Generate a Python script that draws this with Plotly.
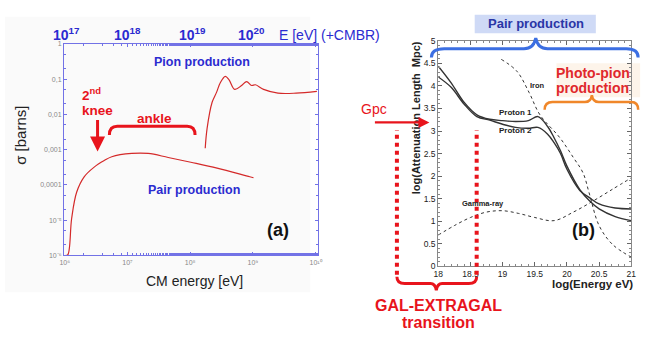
import plotly.graph_objects as go

W, H = 654, 342

# panel (a): photon energy in nucleus rest frame (log10 eV) vs cross section (barns)
pair_lg = [6.01, 6.05, 6.11, 6.19, 6.31, 6.47, 6.63, 6.75, 7.07, 7.33, 7.65, 8.01, 8.43, 8.95, 9.01]
pair_sigma = [1e-6, 1.05e-6, 1.1e-5, 6.2e-5, 1.7e-4, 3.2e-4, 4.9e-4, 6.3e-4, 7.8e-4, 7.8e-4,
              6.0e-4, 4.4e-4, 3.0e-4, 1.7e-4, 1.6e-4]
pion_lg = [8.24, 8.27, 8.35, 8.42, 8.48, 8.56, 8.62, 8.71, 8.82, 8.90, 8.98, 9.04, 9.17, 9.40, 9.69, 10.02]
pion_sigma = [0.0011, 0.004, 0.022, 0.042, 0.079, 0.12, 0.095, 0.051, 0.066, 0.085, 0.066, 0.069,
              0.051, 0.040, 0.040, 0.045]
bottom_ticks = [6, 7, 8, 9, 10]
bottom_labels = ["10⁶", "10⁷", "10⁸", "10⁹", "10¹⁰"]
sigma_ticks = [1, 0.1, 0.01, 0.001, 1e-4, 1e-5, 1e-6]
sigma_labels = ["1", "0,1", "0,01", "0,001", "0,0001", "10⁻⁵", "10⁻⁶"]
top_lg = [6.03, 7.0, 8.04, 8.98]
top_labels = ["10<sup>17</sup>", "10<sup>18</sup>", "10<sup>19</sup>", "10<sup>20</sup>"]

# panel (b): log10 attenuation length (Mpc) vs log10 energy (eV)
prot1_e = [18.0, 18.2, 18.4, 18.6, 18.8, 19.0, 19.2, 19.4, 19.55, 19.7, 19.8, 19.9, 20.0, 20.2, 20.35, 20.5, 20.75, 21.0]
prot1_l = [4.44, 4.07, 3.64, 3.36, 3.26, 3.23, 3.21, 3.23, 3.32, 3.10, 2.85, 2.56, 2.22, 1.70, 1.45, 1.27, 1.10, 1.01]
prot2_e = [18.0, 18.2, 18.4, 18.6, 18.8, 19.0, 19.2, 19.4, 19.55, 19.7, 19.8, 19.9, 20.0, 20.2, 20.35, 20.5, 20.75, 21.0]
prot2_l = [4.20, 3.97, 3.60, 3.32, 3.24, 3.15, 3.08, 3.06, 3.08, 2.93, 2.74, 2.50, 2.15, 1.68, 1.52, 1.38, 1.29, 1.27]
iron_e = [18.98, 19.22, 19.41, 19.58, 19.89, 20.1, 20.25, 20.35, 20.5, 20.71, 21.0]
iron_l = [4.59, 4.33, 3.86, 3.36, 2.85, 2.41, 2.07, 1.60, 0.90, 0.48, 0.20]
gamma_e = [18.0, 18.25, 18.5, 18.75, 19.0, 19.25, 19.5, 19.8, 20.1, 20.4, 20.7, 21.0]
gamma_l = [0.69, 0.90, 1.08, 1.20, 1.23, 1.17, 1.08, 1.01, 1.20, 1.44, 1.70, 1.96]


def px(x):
    return x / W


def py(y):
    return 1 - y / H


def path(pts):
    # pts: list of (cmd, [x, y, ...]) in pixel units -> svg path in paper units
    out = []
    for cmd, vals in pts:
        coords = []
        for i in range(0, len(vals), 2):
            coords.append(f"{px(vals[i]):.5f},{py(vals[i + 1]):.5f}")
        out.append(cmd + " " + " ".join(coords))
    return " ".join(out)


FONT = "Arial, Liberation Sans, sans-serif"
RED = "#e8141c"
BLUE_TXT = "#2b2bd0"

fig = go.Figure()

fig.add_trace(go.Scatter(x=[10 ** v for v in pair_lg], y=pair_sigma, mode="lines",
                         line=dict(color="#d42a2a", width=1.2, shape="spline"),
                         xaxis="x", yaxis="y"))
fig.add_trace(go.Scatter(x=[10 ** v for v in pion_lg], y=pion_sigma, mode="lines",
                         line=dict(color="#d42a2a", width=1.2, shape="spline"),
                         xaxis="x", yaxis="y"))

fig.add_trace(go.Scatter(x=prot1_e, y=prot1_l, mode="lines",
                         line=dict(color="#333", width=1.4, shape="spline"), xaxis="x2", yaxis="y2"))
fig.add_trace(go.Scatter(x=prot2_e, y=prot2_l, mode="lines",
                         line=dict(color="#333", width=1.4, shape="spline"), xaxis="x2", yaxis="y2"))
fig.add_trace(go.Scatter(x=iron_e, y=iron_l, mode="lines",
                         line=dict(color="#333", width=1, dash="dot", shape="spline"), xaxis="x2", yaxis="y2"))
fig.add_trace(go.Scatter(x=gamma_e, y=gamma_l, mode="lines",
                         line=dict(color="#333", width=1, dash="dot", shape="spline"), xaxis="x2", yaxis="y2"))

left_frame = "#7272e6"
fig.update_layout(
    width=W, height=H, margin=dict(l=0, r=0, t=0, b=0),
    paper_bgcolor="white", plot_bgcolor="rgba(0,0,0,0)", showlegend=False,
    font=dict(family=FONT),
    xaxis=dict(type="log", domain=[px(60), px(318)], range=[5.99, 10.04], anchor="y",
               tickvals=[10 ** v for v in bottom_ticks], ticktext=bottom_labels,
               tickfont=dict(size=7, color="#888"), ticks="inside", ticklen=3,
               tickcolor=left_frame, showline=True, linecolor=left_frame, linewidth=1.2,
               mirror="ticks", showgrid=False, zeroline=False,
               minor=dict(ticks="inside", ticklen=2, tickcolor=left_frame, showgrid=False)),
    yaxis=dict(type="log", domain=[py(258), py(40)], range=[-6, 0], anchor="x",
               tickvals=sigma_ticks, ticktext=sigma_labels,
               tickfont=dict(size=7, color="#888"), ticks="inside", ticklen=3,
               tickcolor=left_frame, showline=True, linecolor=left_frame, linewidth=1.2,
               mirror="ticks", showgrid=False, zeroline=False,
               minor=dict(ticks="inside", ticklen=2, tickcolor=left_frame, showgrid=False)),
    xaxis2=dict(domain=[px(440), px(636)], range=[18, 21], anchor="y2", dtick=0.5,
                tickfont=dict(size=8.5, color="#222"), ticks="inside", ticklen=4,
                tickcolor="#666", showline=True, linecolor="#888", linewidth=1,
                mirror="ticks", showgrid=False, zeroline=False,
                minor=dict(dtick=0.1, ticks="inside", ticklen=2, tickcolor="#888")),
    yaxis2=dict(domain=[py(269), py(37)], range=[0, 5], anchor="x2", dtick=0.5,
                tickfont=dict(size=8.5, color="#222"), ticks="inside", ticklen=4,
                tickcolor="#666", showline=True, linecolor="#888", linewidth=1,
                mirror="ticks", showgrid=False, zeroline=False,
                minor=dict(dtick=0.1, ticks="inside", ticklen=2, tickcolor="#888")),
)

shapes = [
    # faint backdrop of panel (a)
    dict(type="rect", xref="paper", yref="paper", x0=px(0), x1=px(310), y0=py(296), y1=py(12),
         fillcolor="#fafafa", line=dict(width=0), layer="below"),
    # Pair production label box
    dict(type="rect", xref="paper", yref="paper", x0=px(477), x1=px(600), y0=py(29), y1=py(10),
         fillcolor="#cfdaf6", line=dict(width=0), layer="below"),
    # photo-pion label backdrop
    dict(type="rect", xref="paper", yref="paper", x0=px(560), x1=px(645), y0=py(95), y1=py(60),
         fillcolor="#fdf4ea", line=dict(width=0), layer="below"),
    # ankle bracket
    dict(type="path", xref="paper", yref="paper", line=dict(color=RED, width=3),
         path=path([("M", [106, 134]), ("Q", [106, 125, 114, 125]), ("L", [185, 125]),
                    ("Q", [193, 125, 193, 134])])),
    # blue pair-production brace
    dict(type="path", xref="paper", yref="paper", line=dict(color="#3c6fe2", width=3),
         path=path([("M", [433, 54]), ("Q", [433, 45, 446, 45]), ("L", [527, 45]),
                    ("Q", [537, 45, 539, 34]), ("Q", [541, 45, 551, 45]), ("L", [631, 45]),
                    ("Q", [643, 45, 643, 54])])),
    # orange photo-pion brace
    dict(type="path", xref="paper", yref="paper", line=dict(color="#f0872a", width=2.5),
         path=path([("M", [548, 108]), ("Q", [548, 100, 556, 100]), ("L", [589, 100]),
                    ("Q", [595, 100, 596, 93]), ("Q", [597, 100, 603, 100]), ("L", [636, 100]),
                    ("Q", [643, 100, 643, 108])])),
    # transition region markers
    dict(type="line", xref="paper", yref="paper", x0=px(398), x1=px(398), y0=py(278), y1=py(129),
         line=dict(color=RED, width=4, dash="dot")),
    dict(type="line", xref="paper", yref="paper", x0=px(479), x1=px(479), y0=py(278), y1=py(129),
         line=dict(color=RED, width=4, dash="dot")),
    dict(type="path", xref="paper", yref="paper", line=dict(color=RED, width=3),
         path=path([("M", [398, 280]), ("Q", [398, 287, 406, 287]), ("L", [432, 287]),
                    ("Q", [437, 287, 438, 294]), ("Q", [439, 287, 444, 287]), ("L", [471, 287]),
                    ("Q", [479, 287, 479, 280])])),
]
fig.update_layout(shapes=shapes)


def txt(x, y, s, size, color, bold=False, angle=0, xanchor="center"):
    if bold:
        s = f"<b>{s}</b>"
    return dict(x=px(x), y=py(y), xref="paper", yref="paper", text=s, showarrow=False,
                font=dict(size=size, color=color, family=FONT), textangle=angle,
                xanchor=xanchor, yanchor="middle")


ann = [
    txt(276, 31, "E [eV] (+CMBR)", 14, BLUE_TXT, xanchor="left"),
    txt(200, 59, "Pion production", 12.5, BLUE_TXT, bold=True),
    txt(192, 191, "Pair production", 12.5, BLUE_TXT, bold=True),
    txt(277, 232, "(a)", 18, "#111", bold=True),
    txt(15, 134, "σ [barns]", 15, "#222", angle=-90),
    txt(192, 284, "CM energy [eV]", 14, "#222"),
    txt(88, 92, "2<sup>nd</sup>", 13.5, RED, bold=True),
    txt(94, 109, "knee", 13.5, RED, bold=True),
    txt(152, 117, "ankle", 13.5, RED, bold=True),
    txt(539, 19, "Pair production", 13, "#2a36a6", bold=True),
    txt(597, 70, "Photo-pion", 14, "#e0282c", bold=True),
    txt(597, 85, "production", 14, "#e0282c", bold=True),
    txt(375, 107, "Gpc", 14, RED),
    txt(541, 83, "Iron", 7.5, "#222", bold=True),
    txt(518, 111, "Proton 1", 8, "#222", bold=True),
    txt(518, 129, "Proton 2", 8, "#222", bold=True),
    txt(485, 204, "Gamma-ray", 7.5, "#222", bold=True),
    txt(587, 232, "(b)", 18, "#111", bold=True),
    txt(417, 116, "log(Attenuation Length  Mpc)", 11, "#222", bold=True, angle=-90),
    txt(597, 287, "log(Energy eV)", 11.5, "#222", bold=True),
    txt(440, 310, "GAL-EXTRAGAL", 16, RED, bold=True),
    txt(440, 327, "transition", 16, RED, bold=True),
    # arrows
    dict(x=px(94), y=py(151), xref="paper", yref="paper", ax=0, ay=-33, text="",
         showarrow=True, arrowhead=2, arrowsize=1, arrowwidth=3, arrowcolor=RED),
    dict(x=px(431), y=py(121), xref="paper", yref="paper", ax=-56, ay=0, text="",
         showarrow=True, arrowhead=2, arrowsize=1, arrowwidth=2.2, arrowcolor=RED),
]
for v, lab in zip(top_lg, top_labels):
    ann.append(dict(x=v, y=py(30), xref="x", yref="paper", text=f"<b>{lab}</b>", showarrow=False,
                    font=dict(size=14, color=BLUE_TXT, family=FONT), yanchor="middle"))
fig.update_layout(annotations=ann)

# the page body has a default 8px margin; drop it so the figure sits at the window origin
fig.write_html("out.html", config={"displayModeBar": False},
               post_script="document.body.style.margin='0';")
